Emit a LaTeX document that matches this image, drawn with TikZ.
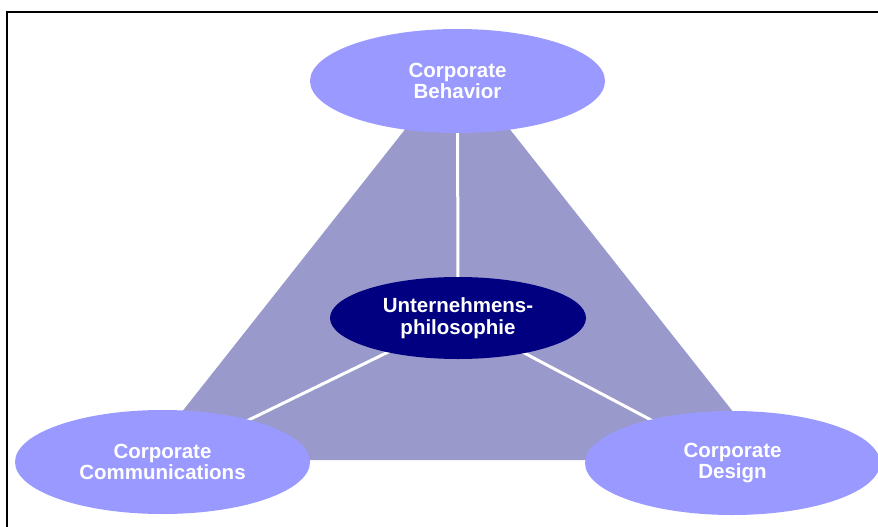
\documentclass[tikz,border=0pt]{standalone}
\usepackage{fontspec}
\setmainfont{Liberation Sans}
\usepackage{tikz}
\usetikzlibrary{shapes.geometric,backgrounds,positioning}
\definecolor{outerblue}{HTML}{9999FF}
\definecolor{trigray}{HTML}{9999CC}
\definecolor{navyblue}{HTML}{000080}
\tikzset{
  outer/.style={ellipse, fill=outerblue, text=white, inner sep=0pt,
    minimum width=295pt, minimum height=104pt, align=center,
    font=\bfseries\fontsize{20.5}{21.5}\selectfont},
  inner/.style={ellipse, fill=navyblue, text=white, inner sep=0pt,
    minimum width=256pt, minimum height=82pt, align=center,
    font=\bfseries\fontsize{20.5}{22}\selectfont},
  spoke/.style={white, line width=3pt}
}

\begin{document}
\begin{tikzpicture}[x=1pt,y=-1pt]
\useasboundingbox (0,0) rectangle (878,527);
% frame
\draw[line width=2.6pt] (7,527) -- (7,12) -- (878,12);
% ellipses
\node[outer] (behavior) at (457.5,81) {Corporate\\Behavior};
\node[outer] (communications) at (162.5,462) {Corporate\\Communications};
\node[outer] (design) at (732.5,463) {Corporate\\Design};
\node[inner] (philosophie) at (458,318) {Unternehmens-\\philosophie};
% triangle and spokes behind
\begin{scope}[on background layer]
\coordinate (apex) at (457.5,63);
\coordinate (left) at (143.9,460);
\coordinate (right) at (771.1,460);
\fill[trigray] (apex) -- (left) -- (right) -- cycle;
\draw[spoke] (philosophie.center) -- (behavior.center);
\draw[spoke] (philosophie.center) -- (communications.center);
\draw[spoke] (philosophie.center) -- (design.center);
\end{scope}
\end{tikzpicture}
\end{document}
